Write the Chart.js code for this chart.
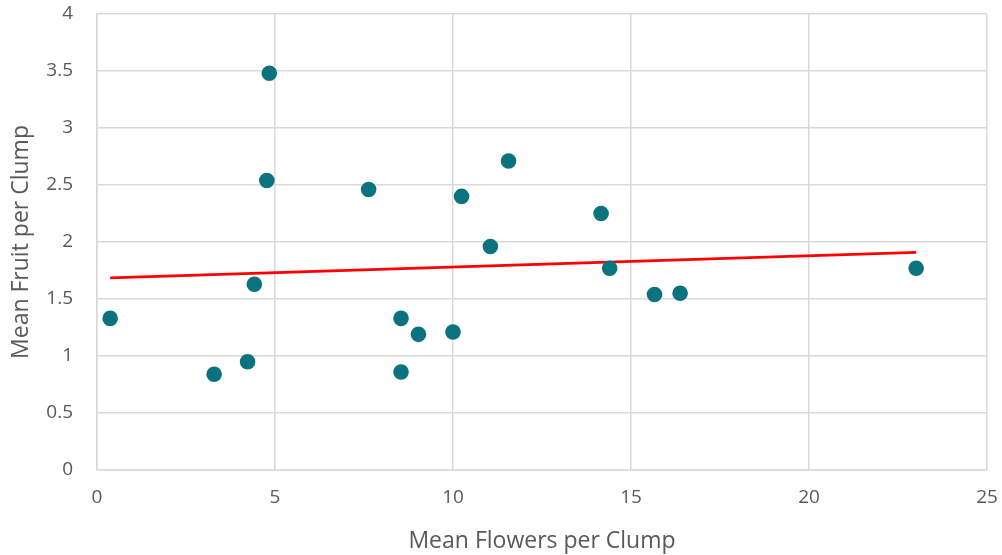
<!DOCTYPE html>
<html>
<head>
<meta charset="utf-8">
<script src="https://cdn.jsdelivr.net/npm/chart.js@4/dist/chart.umd.min.js"></script>
<style>
  html, body { margin: 0; padding: 0; background: #ffffff; }
  #wrap { width: 1002px; height: 555px; position: relative; }
</style>
</head>
<body>
<div id="wrap"><canvas id="chart"></canvas></div>
<script>
// Clump measurements: mean flowers (x) and mean fruit (y) per clump
const meanFlowers = [0.37, 3.29, 4.23, 4.42, 4.77, 4.84, 7.63, 8.54, 8.54, 9.03, 10.0, 10.24, 11.05, 11.56, 14.16, 14.40, 15.66, 16.38, 23.01];
const meanFruit   = [1.33, 0.84, 0.95, 1.63, 2.54, 3.48, 2.46, 1.33, 0.86, 1.19, 1.21, 2.40, 1.96, 2.71, 2.25, 1.77, 1.54, 1.55, 1.77];

// Linear trend line endpoints
const trendX = [0.37, 23.01];
const trendY = [1.685, 1.908];

// Axis ticks
const xTicks = [0, 5, 10, 15, 20, 25];
const yTicks = [0, 0.5, 1, 1.5, 2, 2.5, 3, 3.5, 4];

const xTitle = 'Mean Flowers per Clump';
const yTitle = 'Mean Fruit per Clump';

const points = meanFlowers.map((x, i) => ({ x: x, y: meanFruit[i] }));
const trend = trendX.map((x, i) => ({ x: x, y: trendY[i] }));

const FONT = "'Open Sans', 'Liberation Sans', sans-serif";
const GREY = '#595959';
const GRID = '#d9d9d9';

new Chart(document.getElementById('chart'), {
  type: 'scatter',
  data: {
    datasets: [
      {
        label: 'Trend',
        data: trend,
        showLine: true,
        borderColor: '#ff0000',
        borderWidth: 2.75,
        pointRadius: 0,
        pointHoverRadius: 0,
        fill: false,
        order: 2
      },
      {
        label: 'Clumps',
        data: points,
        backgroundColor: '#0b737d',
        borderColor: '#0b737d',
        borderWidth: 0,
        pointRadius: 7.8,
        pointHoverRadius: 7.8,
        order: 1
      }
    ]
  },
  options: {
    responsive: true,
    maintainAspectRatio: false,
    animation: false,
    layout: { padding: { top: 14, right: 15, left: 0, bottom: 0 } },
    plugins: {
      legend: { display: false },
      tooltip: { enabled: false }
    },
    scales: {
      x: {
        type: 'linear',
        min: 0,
        max: 25,
        afterBuildTicks: (scale) => { scale.ticks = xTicks.map(v => ({ value: v })); },
        afterFit: (scale) => {
          scale.height = 85;
          scale.paddingLeft = 0;
          scale.paddingRight = 0;
        },
        grid: { color: GRID, lineWidth: 1.5, drawTicks: false },
        border: { color: GRID, width: 1.5 },
        ticks: {
          color: GREY,
          font: { family: FONT, size: 19 },
          padding: 16,
          maxRotation: 0,
          callback: (v) => String(v)
        },
        title: {
          display: true,
          text: xTitle,
          color: GREY,
          font: { family: FONT, size: 23 },
          padding: { top: 4, bottom: 0 }
        }
      },
      y: {
        type: 'linear',
        min: 0,
        max: 4,
        afterBuildTicks: (scale) => { scale.ticks = yTicks.map(v => ({ value: v })); },
        afterFit: (scale) => {
          scale.width = 97;
          scale.paddingTop = 0;
          scale.paddingBottom = 0;
        },
        grid: { color: GRID, lineWidth: 1.5, drawTicks: false },
        border: { color: GRID, width: 1.5 },
        ticks: {
          color: GREY,
          font: { family: FONT, size: 19 },
          padding: 24,
          callback: (v) => String(v)
        },
        title: {
          display: true,
          text: yTitle,
          color: GREY,
          font: { family: FONT, size: 23 },
          padding: { top: 8, bottom: 0 }
        }
      }
    }
  }
});
</script>
</body>
</html>
